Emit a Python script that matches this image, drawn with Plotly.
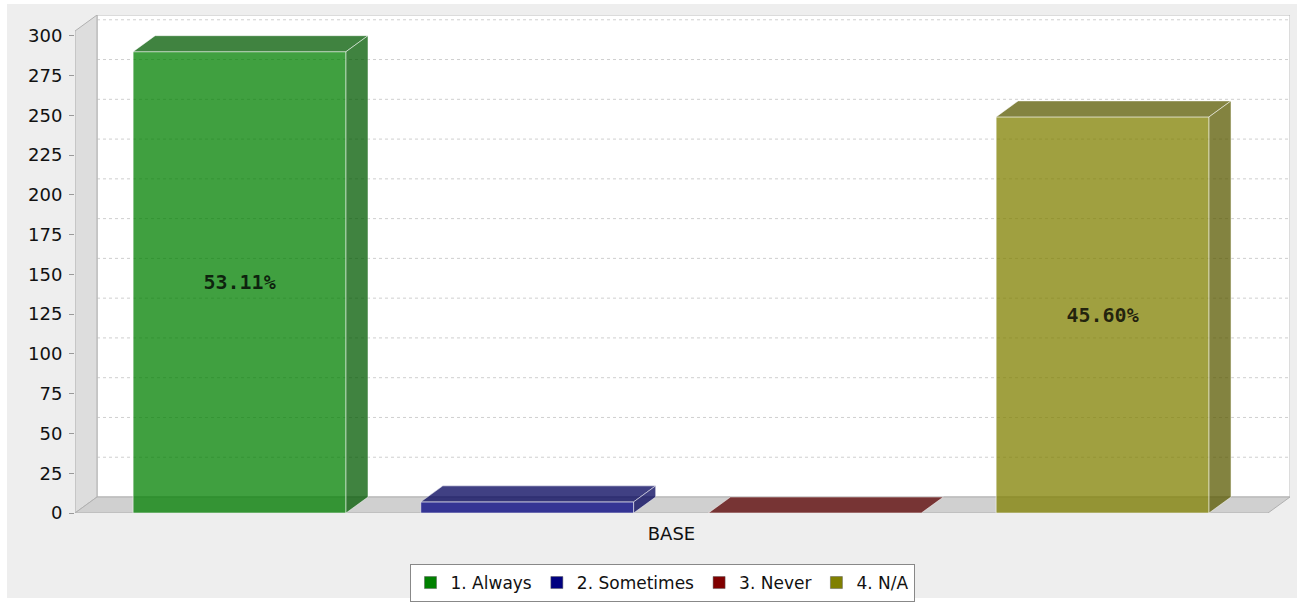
import plotly.graph_objects as go

# ---------------- data ----------------
category = "BASE"
series = ["1. Always", "2. Sometimes", "3. Never", "4. N/A"]
values = [290, 7, 0, 249]
series_rgb = [(0, 128, 0), (0, 0, 128), (128, 0, 0), (128, 128, 0)]
y_ticks = list(range(0, 301, 25))

total = sum(values)
pct_labels = [f"{v / total * 100:.2f}%" for v in values]

# ---------------- geometry / style constants ----------------
BAR_W = 0.74          # bar width in series-slot units
XL, XR = -0.572, 3.575  # front plane extent on x
DX = 0.0765           # 3D depth offset along x (data units)
Y_TOP = 303           # front plane top value
DY = 10.06            # 3D depth offset along y (data units)
ALPHA = 0.75
FONT = "DejaVu Sans"


def rgba(c, f=1.0, a=ALPHA):
    return f"rgba({int(c[0] * f)},{int(c[1] * f)},{int(c[2] * f)},{a})"


fig = go.Figure()

# front faces (bars)
for i, (name, v, c, lab) in enumerate(zip(series, values, series_rgb, pct_labels)):
    fig.add_trace(go.Bar(
        x=[i], y=[v], width=BAR_W, name=name, showlegend=False,
        marker=dict(color=rgba(c), line=dict(color="rgba(255,255,255,0.55)", width=1)),
        text=[lab], textposition="inside", insidetextanchor="middle",
        textfont=dict(family="DejaVu Sans Mono", size=20, color="rgba(0,0,0,0.78)", weight="bold"),
        hoverinfo="name+y",
    ))

# 3D top / side faces
for i, (v, c) in enumerate(zip(values, series_rgb)):
    x0, x1 = i - BAR_W / 2, i + BAR_W / 2
    fig.add_trace(go.Scatter(
        x=[x0, x1, x1 + DX, x0 + DX, x0], y=[v, v, v + DY, v + DY, v],
        fill="toself", fillcolor=rgba(c, 0.7), mode="lines",
        line=dict(color="rgba(255,255,255,0.5)", width=1),
        showlegend=False, hoverinfo="skip",
    ))
    if v > 0:
        fig.add_trace(go.Scatter(
            x=[x1, x1 + DX, x1 + DX, x1, x1], y=[0, DY, v + DY, v, 0],
            fill="toself", fillcolor=rgba(c, 0.7), mode="lines",
            line=dict(color="rgba(255,255,255,0.5)", width=1),
            showlegend=False, hoverinfo="skip",
        ))

# legend entries (solid series colours)
for name, c in zip(series, series_rgb):
    fig.add_trace(go.Bar(
        x=[None], y=[None], name=name,
        marker=dict(color=f"rgb({c[0]},{c[1]},{c[2]})", line=dict(color="rgb(90,90,90)", width=0.5)),
        showlegend=True,
    ))

# ---------------- 3D walls / gridlines ----------------
shapes = []
PL, PT, PW, PH = 75, 15, 1215, 498


def px_to_paper_x(px):
    return (px - PL) / PW


def py_to_paper_y(py):
    return (PT + PH - py) / PH


# outer chart background frame
shapes.append(dict(type="rect", xref="paper", yref="paper",
                   x0=px_to_paper_x(7), x1=px_to_paper_x(1297),
                   y0=py_to_paper_y(598), y1=py_to_paper_y(4),
                   fillcolor="#eeeeee", line=dict(width=0), layer="below"))
# back wall
shapes.append(dict(type="rect", xref="x", yref="y", x0=XL + DX, x1=XR + DX, y0=DY, y1=Y_TOP + DY,
                   fillcolor="white", line=dict(color="#b8b8b8", width=1), layer="below"))
# gridlines on back wall
for t in y_ticks[1:]:
    shapes.append(dict(type="line", xref="x", yref="y", x0=XL + DX, x1=XR + DX, y0=t + DY, y1=t + DY,
                       line=dict(color="#cfcfcf", width=1, dash="3px,3px"), layer="below"))
# left wall
shapes.append(dict(type="path", xref="x", yref="y",
                   path=f"M {XL},0 L {XL},{Y_TOP} L {XL + DX},{Y_TOP + DY} L {XL + DX},{DY} Z",
                   fillcolor="#dddddd", line=dict(color="#b0b0b0", width=1), layer="below"))
# floor
shapes.append(dict(type="path", xref="x", yref="y",
                   path=f"M {XL},0 L {XR},0 L {XR + DX},{DY} L {XL + DX},{DY} Z",
                   fillcolor="#d0d0d0", line=dict(color="#b0b0b0", width=1), layer="below"))

fig.update_layout(
    width=1304, height=603,
    margin=dict(l=PL, r=1304 - PL - PW, t=PT, b=603 - PT - PH, autoexpand=False),
    paper_bgcolor="white", plot_bgcolor="#eeeeee",
    barmode="overlay",
    shapes=shapes,
    font=dict(family=FONT, color="#222222"),
    xaxis=dict(range=[XL, XR + DX], tickvals=[(XL + XR) / 2], ticktext=[category],
               showgrid=False, zeroline=False, showline=False, ticks="",
               tickfont=dict(size=18, family=FONT, color="#111111"), ticklabelstandoff=8,
               fixedrange=True),
    yaxis=dict(range=[0, Y_TOP + DY], tickvals=y_ticks, ticks="outside", ticklen=5,
               tickcolor="#999999", showgrid=False, zeroline=False, showline=False,
               tickfont=dict(size=18, family=FONT, color="#111111"), ticklabelstandoff=3,
               fixedrange=True),
    legend=dict(orientation="h", x=px_to_paper_x(662), xanchor="center",
                y=py_to_paper_y(564), yanchor="top",
                bgcolor="white", bordercolor="#888888", borderwidth=1,
                font=dict(size=17, family=FONT, color="#111111"),
                traceorder="normal", itemclick=False, tracegroupgap=0, itemwidth=30),
    uniformtext=dict(minsize=20, mode="hide"),
    showlegend=True,
)

fig.write_html("out.html", config={"displayModeBar": False},
               post_script="document.body.style.margin='0px';")
